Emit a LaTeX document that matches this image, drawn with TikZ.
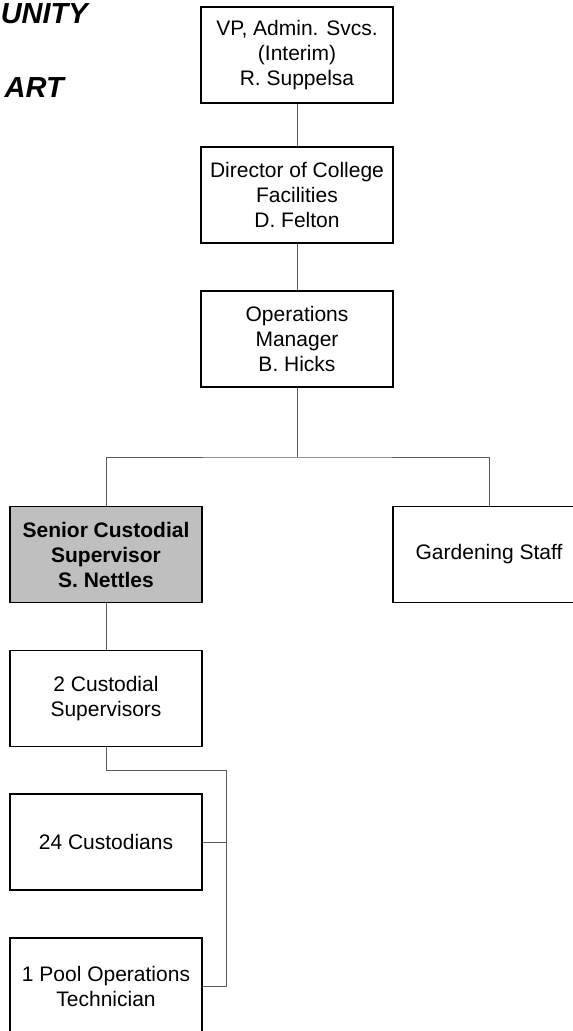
\documentclass[tikz,border=0pt]{standalone}
\usepackage{fontspec}
\setmainfont{Liberation Sans}
\usetikzlibrary{positioning}

\begin{document}
\begin{tikzpicture}[x=1pt,y=-1pt,
    unitbox/.style={draw,line width=1.3pt,minimum width=192pt,minimum height=96pt,
        inner sep=0pt,align=center,font=\fontsize{21}{25}\selectfont},
    leadbox/.style={unitbox,fill=black!25,font=\fontsize{21}{25}\selectfont\bfseries},
    link/.style={draw=black!65,line width=0.9pt}]

% === Page frame ===
\useasboundingbox (0,0) rectangle (573,1031);
\clip (0,0) rectangle (573,1031);

% === Title (cut at the left edge) ===
\node[anchor=base east,inner sep=0pt,font=\fontsize{29}{33}\selectfont\bfseries\itshape] (titleA) at (88,23) {UNITY};
\node[anchor=base east,inner sep=0pt,font=\fontsize{29}{33}\selectfont\bfseries\itshape] (titleB) at (64,97) {ART};

% === Management chain ===
\node[unitbox] (vp)  at (297,55)  {VP, Admin. Svcs.\\(Interim)\\R. Suppelsa};
\node[unitbox] (dir) at (297,195) {Director of College\\Facilities\\D. Felton};
\node[unitbox] (ops) at (297,339) {Operations\\Manager\\B. Hicks};

% === Second level ===
\node[leadbox] (senior) at (106,554.5) {Senior Custodial\\Supervisor\\S. Nettles};
\node[unitbox] (garden) at (489,554.5) {Gardening Staff};

% === Custodial staff ===
\node[unitbox] (sup)  at (106,698.5) {2 Custodial\\Supervisors};
\node[unitbox] (cust) at (106,842)   {24 Custodians};
\node[unitbox] (pool) at (106,986)   {1 Pool Operations\\Technician};

% Connectors
\coordinate (bus) at (297,457);
\coordinate (spine) at (226,770);
\draw[link] (vp) -- (dir);
\draw[link] (dir) -- (ops);
\draw[link] (ops.south) -- (bus);
\draw[link] (senior.north) |- (bus) -| (garden.north);
\draw[link] (senior) -- (sup);
\draw[link] (sup.south) |- (spine) -- (spine |- pool.east) -- (pool.east);
\draw[link] (cust.east) -- (cust.east -| spine);

\end{tikzpicture}
\end{document}
